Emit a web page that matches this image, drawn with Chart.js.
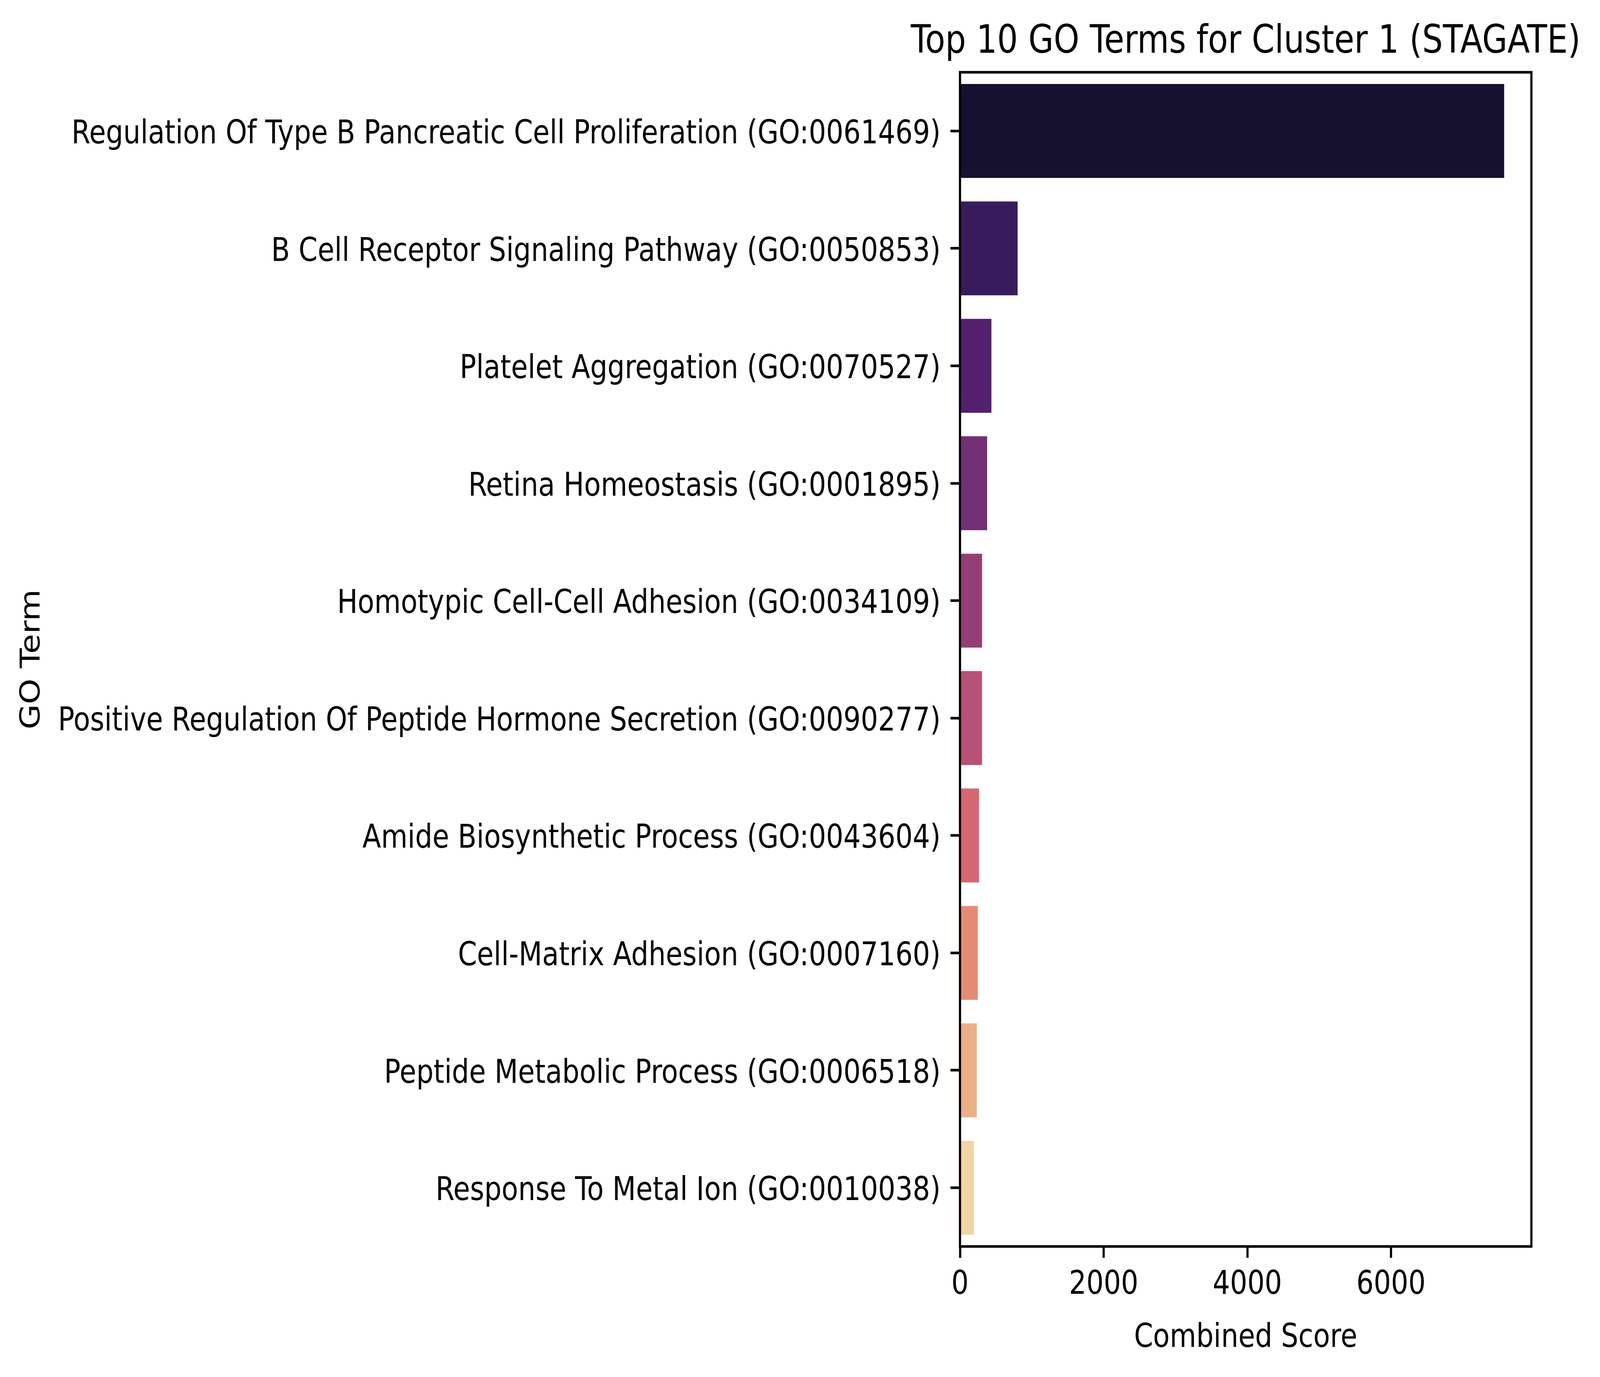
<!DOCTYPE html>
<html>
<head>
<meta charset="utf-8">
<script src="https://cdn.jsdelivr.net/npm/chart.js@4.4.1/dist/chart.umd.min.js"></script>
<style>
  html, body { margin: 0; padding: 0; background: #fff; overflow: hidden; }
  canvas { display: block; width: 100vw !important; height: 100vh !important; }
</style>
</head>
<body>
<canvas id="goChart" width="4895" height="3525"></canvas>
<script>
// GO terms, top to bottom
const goTerms = [
    'Regulation Of Type B Pancreatic Cell Proliferation (GO:0061469)',
    'B Cell Receptor Signaling Pathway (GO:0050853)',
    'Platelet Aggregation (GO:0070527)',
    'Retina Homeostasis (GO:0001895)',
    'Homotypic Cell-Cell Adhesion (GO:0034109)',
    'Positive Regulation Of Peptide Hormone Secretion (GO:0090277)',
    'Amide Biosynthetic Process (GO:0043604)',
    'Cell-Matrix Adhesion (GO:0007160)',
    'Peptide Metabolic Process (GO:0006518)',
    'Response To Metal Ion (GO:0010038)'
];

// Combined score per term
const combinedScores = [7575, 801, 437, 378, 307, 306, 266, 247, 234, 193];

// magma palette (desaturated), one per bar
const barColors = [
    '#16112f', '#381b5d', '#54206e', '#722f76', '#933e74',
    '#b85175', '#d66772', '#e58b74', '#ebaf86', '#f2d4a6'
];

const xTicks = [0, 2000, 4000, 6000];
const xMax = 7954;
const chartTitle = 'Top 10 GO Terms for Cluster 1 (STAGATE)';

const PT = 600 / 72; // pixels per point
const FONT = 'DejaVu Sans';

Chart.defaults.font.family = FONT;
Chart.defaults.color = '#000';

// full box around the plot area, like the matplotlib spines
const framePlugin = {
    id: 'frame',
    afterDraw(chart) {
        const { ctx, chartArea: a } = chart;
        ctx.save();
        ctx.strokeStyle = '#000';
        ctx.lineWidth = 0.8 * PT;
        ctx.strokeRect(a.left, a.top, a.right - a.left, a.bottom - a.top);
        ctx.restore();
    }
};

// title centred over the plot area (the built-in one squeezes it to the area width)
const axesTitlePlugin = {
    id: 'axesTitle',
    afterDraw(chart) {
        const { ctx, chartArea: a } = chart;
        ctx.save();
        ctx.font = `${12 * PT}px ${FONT}`;
        ctx.fillStyle = '#000';
        ctx.textAlign = 'center';
        ctx.textBaseline = 'alphabetic';
        ctx.fillText(chartTitle, (a.left + a.right) / 2, a.top - 6 * PT);
        ctx.restore();
    }
};

new Chart(document.getElementById('goChart').getContext('2d'), {
    type: 'bar',
    data: {
        labels: goTerms,
        datasets: [{
            label: 'Combined Score',
            data: combinedScores,
            backgroundColor: barColors,
            borderWidth: 0,
            barPercentage: 0.8,
            categoryPercentage: 1.0
        }]
    },
    options: {
        indexAxis: 'y',
        responsive: false,
        animation: false,
        devicePixelRatio: 1,
        layout: { padding: { top: 185, right: 210, bottom: 49, left: 0 } },
        plugins: {
            legend: { display: false },
            tooltip: { enabled: false },
            title: { display: false }
        },
        scales: {
            x: {
                type: 'linear',
                min: 0,
                max: xMax,
                afterBuildTicks: (scale) => {
                    scale.ticks = xTicks.map(v => ({ value: v }));
                },
                grid: {
                    drawOnChartArea: false,
                    drawTicks: true,
                    tickLength: 3.5 * PT,
                    tickWidth: 0.8 * PT,
                    tickColor: '#000'
                },
                border: { display: false },
                ticks: {
                    padding: 20,
                    color: '#000',
                    font: { size: 10 * PT, lineHeight: 1.2 },
                    callback: (v) => String(v)
                },
                title: {
                    display: true,
                    text: 'Combined Score',
                    color: '#000',
                    font: { size: 10 * PT, lineHeight: 1.2 },
                    padding: { top: 16, bottom: 0 }
                }
            },
            y: {
                type: 'category',
                afterFit: (scale) => { scale.width = 2937; },
                grid: {
                    offset: false,
                    drawOnChartArea: false,
                    drawTicks: true,
                    tickLength: 3.5 * PT,
                    tickWidth: 0.8 * PT,
                    tickColor: '#000'
                },
                border: { display: false },
                ticks: {
                    padding: 30,
                    labelOffset: 10,
                    color: '#000',
                    font: { size: 10 * PT, lineHeight: 1.2 }
                },
                title: {
                    display: true,
                    text: 'GO Term',
                    color: '#000',
                    font: { size: 10 * PT, lineHeight: 1.2 },
                    padding: { top: 49, bottom: 0 }
                }
            }
        }
    },
    plugins: [framePlugin, axesTitlePlugin]
});
</script>
</body>
</html>
